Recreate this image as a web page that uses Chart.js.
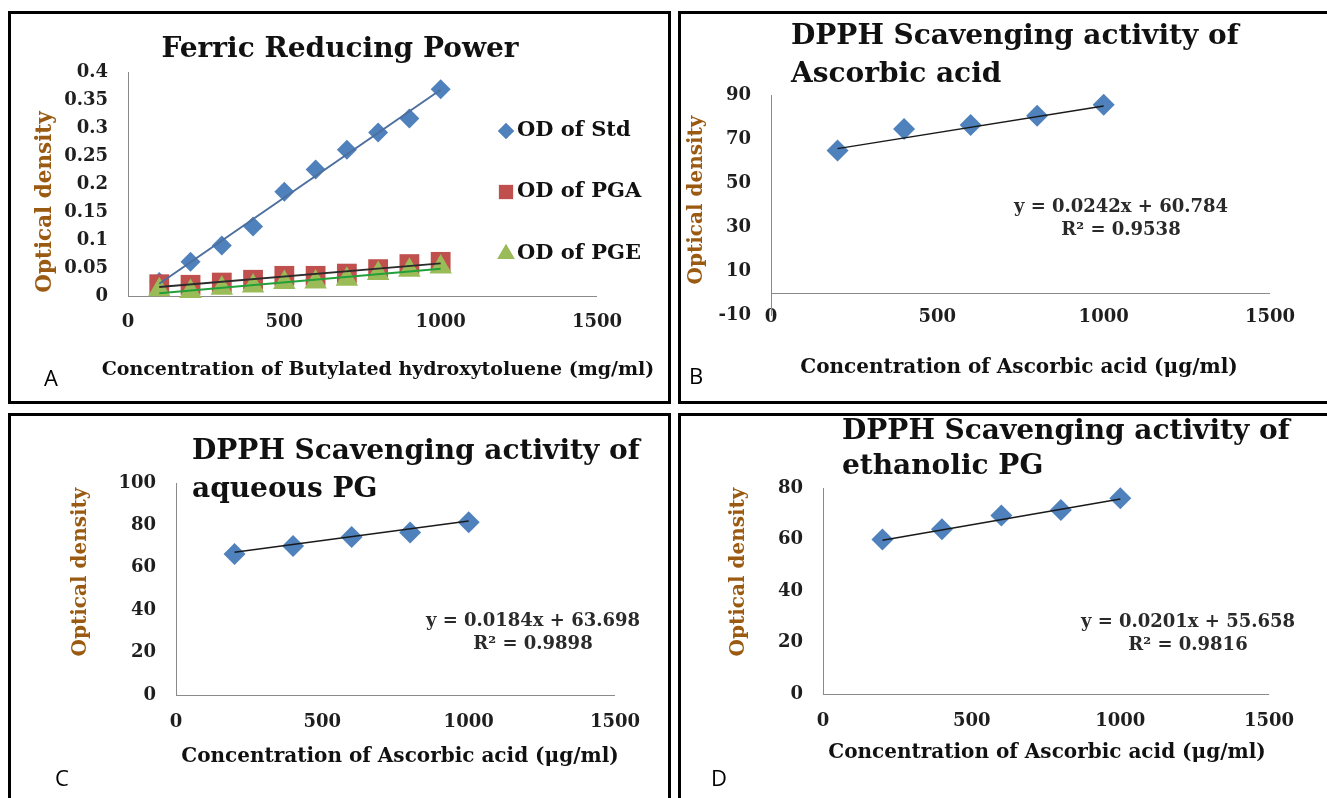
<!DOCTYPE html>
<html><head><meta charset="utf-8">
<script src="https://cdn.jsdelivr.net/npm/chart.js@4.4.1/dist/chart.umd.min.js"></script>
<style>
html,body{margin:0;padding:0;background:#fff;width:1327px;height:798px;overflow:hidden;}
.panel{position:absolute;border:3px solid #000;box-sizing:border-box;background:#fff;overflow:hidden;}
#pA{left:8px;top:11px;width:663px;height:393px;}
#pB{left:678px;top:11px;width:660px;height:393px;}
#pC{left:8px;top:413px;width:663px;height:400px;}
#pD{left:678px;top:413px;width:660px;height:400px;}
canvas{position:absolute;left:0;top:0;}
</style></head><body>
<div class="panel" id="pA"><canvas id="cA" width="657" height="387"></canvas></div>
<div class="panel" id="pB"><canvas id="cB" width="646" height="387"></canvas></div>
<div class="panel" id="pC"><canvas id="cC" width="657" height="382"></canvas></div>
<div class="panel" id="pD"><canvas id="cD" width="646" height="382"></canvas></div>
<script>
// ---------------- DATA ----------------
const concA = [100, 200, 300, 400, 500, 600, 700, 800, 900, 1000];
const odStd = [0.025, 0.061, 0.090, 0.124, 0.186, 0.226, 0.261, 0.292, 0.317, 0.369];
const odPGA = [0.021, 0.020, 0.024, 0.029, 0.036, 0.036, 0.040, 0.048, 0.057, 0.061];
const odPGE = [0.011, 0.008, 0.014, 0.018, 0.024, 0.025, 0.030, 0.040, 0.046, 0.052];

const concDPPH = [200, 400, 600, 800, 1000];
const dpphAscorbic = [64.8, 74.6, 76.4, 80.6, 85.6];
const dpphAqueous = [66.5, 70.3, 74.5, 76.6, 81.5];
const dpphEthanolic = [60.0, 64.0, 69.3, 71.5, 76.0];

// trendline coefficients printed on the charts: [slope, intercept, R²]
const fitB = [0.0242, 60.784, 0.9538];
const fitC = [0.0184, 63.698, 0.9898];
const fitD = [0.0201, 55.658, 0.9816];

// tick labels
const xTicks = [0, 500, 1000, 1500];
const yTicksA = [0, 0.05, 0.1, 0.15, 0.2, 0.25, 0.3, 0.35, 0.4];
const yTicksB = [-10, 10, 30, 50, 70, 90];
const yTicksC = [0, 20, 40, 60, 80, 100];
const yTicksD = [0, 20, 40, 60, 80];

// texts
const legendA = ['OD of Std', 'OD of PGA', 'OD of PGE'];
const titleA = ['Ferric Reducing Power'];
const titleB = ['DPPH Scavenging activity of', 'Ascorbic acid'];
const titleC = ['DPPH Scavenging activity of', 'aqueous PG'];
const titleD = ['DPPH Scavenging activity of', 'ethanolic PG'];
const yTitle = 'Optical density';
const xTitleA = 'Concentration of Butylated hydroxytoluene (mg/ml)';
const xTitleBCD = 'Concentration of Ascorbic acid (\u03bcg/ml)';
const panelLetters = ['A', 'B', 'C', 'D'];

// ---------------- STYLE ----------------
const SERIF = '"DejaVu Serif"';
const tickFont = {family: SERIF, weight: 'bold', size: 18};
const tickColor = '#1e1e1e';
const axisColor = '#8a8a8a';
const blue = '#4F81BD', red = '#C0504D', green = '#9BBB59';
const yTitleColor = '#9A5A12';
const fTitle = 'bold 28px ' + SERIF;
const fAxisA = 'bold 19px ' + SERIF;
const fAxis = 'bold 20px ' + SERIF;
const fYA = 'bold 21.5px ' + SERIF;
const fY = 'bold 20px ' + SERIF;
const fLegend = 'bold 21px ' + SERIF;
const fEq = 'bold 18px ' + SERIF;
const fLetter = '22px "Open Sans"';

function linFit(xs, ys) {
  const n = xs.length;
  const mx = xs.reduce((a, b) => a + b, 0) / n;
  const my = ys.reduce((a, b) => a + b, 0) / n;
  let sxy = 0, sxx = 0;
  for (let i = 0; i < n; i++) { sxy += (xs[i] - mx) * (ys[i] - my); sxx += (xs[i] - mx) ** 2; }
  const m = sxy / sxx;
  return [m, my - m * mx];
}
function trendPts(xs, coef) {
  const x0 = xs[0], x1 = xs[xs.length - 1];
  return [{x: x0, y: coef[0] * x0 + coef[1]}, {x: x1, y: coef[0] * x1 + coef[1]}];
}
function pts(xs, ys) { return xs.map((x, i) => ({x, y: ys[i]})); }

function drawMarker(ctx, style, r, x, y, color) {
  ctx.save();
  ctx.fillStyle = color;
  if (Chart.helpers && Chart.helpers.drawPoint) {
    Chart.helpers.drawPoint(ctx, {pointStyle: style, radius: r, rotation: 0, borderWidth: 0}, x, y);
    ctx.fill();
  } else {
    ctx.beginPath();
    if (style === 'rectRot') { ctx.moveTo(x - r, y); ctx.lineTo(x, y - r); ctx.lineTo(x + r, y); ctx.lineTo(x, y + r); }
    else if (style === 'rect') { const s = r * Math.SQRT1_2; ctx.rect(x - s, y - s, 2 * s, 2 * s); }
    else { ctx.moveTo(x, y - r); ctx.lineTo(x + r * 0.866, y + r / 2); ctx.lineTo(x - r * 0.866, y + r / 2); }
    ctx.closePath(); ctx.fill();
  }
  ctx.restore();
}

// horizontal axis line drawn where y = 0 (through the y scale)
const zeroLinePlugin = {
  id: 'zeroLine',
  beforeDatasetsDraw(chart) {
    const {ctx, chartArea, scales} = chart;
    const y = Math.round(scales.y.getPixelForValue(0)) + 0.5;
    ctx.save();
    ctx.strokeStyle = axisColor; ctx.lineWidth = 1;
    ctx.beginPath(); ctx.moveTo(chartArea.left, y); ctx.lineTo(chartArea.right, y); ctx.stroke();
    ctx.restore();
  }
};

const textPlugin = {
  id: 'panelText',
  afterDraw(chart, args, opts) {
    const ctx = chart.ctx;
    (opts.items || []).forEach(it => {
      ctx.save();
      ctx.font = it.font;
      ctx.fillStyle = it.color || '#111';
      ctx.textAlign = it.align || 'center';
      ctx.textBaseline = 'middle';
      ctx.translate(it.x, it.y);
      if (it.rot) ctx.rotate(it.rot);
      ctx.fillText(it.text, 0, 0);
      ctx.restore();
    });
    (opts.legend || []).forEach(l => {
      drawMarker(ctx, l.style, l.r, l.x, l.y, l.color);
      ctx.save();
      ctx.font = fLegend; ctx.fillStyle = '#111';
      ctx.textAlign = 'left'; ctx.textBaseline = 'middle';
      ctx.fillText(l.text, l.x + 11, l.y);
      ctx.restore();
    });
  }
};

function scales(yArr, g, xpad) {
  return {
    x: {
      type: 'linear', position: 'bottom', min: 0, max: 1500,
      afterBuildTicks: s => { s.ticks = xTicks.map(v => ({value: v})); },
      afterFit: s => {
        s.height = g.h - g.bottom; s.paddingLeft = 0; s.paddingRight = 0;
        s._computeLabelArea = () => undefined; // do not clip labels to the axis box
      },
      grid: {display: false, drawTicks: false},
      border: {display: false},
      ticks: {padding: xpad, font: tickFont, color: tickColor, maxRotation: 0, autoSkip: false, callback: v => String(v)}
    },
    y: {
      type: 'linear', min: yArr[0], max: yArr[yArr.length - 1],
      afterBuildTicks: s => { s.ticks = yArr.map(v => ({value: v})); },
      afterFit: s => { s.width = g.left; s.paddingTop = 0; s.paddingBottom = 0; },
      grid: {display: false, drawTicks: false},
      border: {display: true, color: axisColor, width: 1},
      ticks: {padding: 20, font: tickFont, color: tickColor, autoSkip: false, callback: v => String(v)}
    }
  };
}

function baseOptions(g, yArr, xpad, items, legend) {
  return {
    responsive: false, animation: false, devicePixelRatio: 1, events: [],
    layout: {padding: {left: 0, top: g.top, right: g.w - g.right, bottom: 0}},
    scales: scales(yArr, g, xpad),
    plugins: {legend: {display: false}, tooltip: {enabled: false}, title: {display: false},
      panelText: {items, legend: legend || []}}
  };
}

function titleItems(lines, x, y0, dy, align) {
  return lines.map((t, i) => ({text: t, x, y: y0 + i * dy, font: fTitle, align, color: '#111'}));
}
function eqItems(fit, cx, y0) {
  return [
    {text: 'y = ' + fit[0] + 'x + ' + fit[1], x: cx, y: y0, font: fEq, color: '#2a2a2a'},
    {text: 'R\u00b2 = ' + fit[2], x: cx, y: y0 + 23, font: fEq, color: '#2a2a2a'}
  ];
}

// ---------------- PANEL A ----------------
const gA = {w: 657, h: 387, left: 117, right: 586, top: 58, bottom: 282};
const fitStd = linFit(concA, odStd), fitPGA = linFit(concA, odPGA), fitPGE = linFit(concA, odPGE);
new Chart(document.getElementById('cA'), {
  type: 'scatter',
  data: {datasets: [
    {label: 'trend Std', data: trendPts(concA, fitStd), showLine: true, pointRadius: 0, borderColor: '#4C6F9E', borderWidth: 2, order: 3, clip: false},
    {label: 'trend PGA', data: trendPts(concA, fitPGA), showLine: true, pointRadius: 0, borderColor: '#2b2b2b', borderWidth: 2, order: 2, clip: false},
    {label: 'trend PGE', data: trendPts(concA, fitPGE), showLine: true, pointRadius: 0, borderColor: '#22a03a', borderWidth: 2, order: 1, clip: false},
    {label: legendA[0], data: pts(concA, odStd), pointStyle: 'rectRot', pointRadius: 10, backgroundColor: blue, borderWidth: 0, order: 6, clip: false},
    {label: legendA[1], data: pts(concA, odPGA), pointStyle: 'rect', pointRadius: 14, backgroundColor: red, borderWidth: 0, order: 5, clip: false},
    {label: legendA[2], data: pts(concA, odPGE), pointStyle: 'triangle', pointRadius: 13, backgroundColor: green, borderWidth: 0, order: 4, clip: false}
  ]},
  options: baseOptions(gA, yTicksA, 16, [
    ...titleItems(titleA, 329, 36, 0, 'center'),
    {text: yTitle, x: 34, y: 188, font: fYA, color: yTitleColor, rot: -Math.PI / 2},
    {text: xTitleA, x: 367, y: 356, font: fAxisA, color: '#111'},
    {text: panelLetters[0], x: 40, y: 366, font: fLetter, color: '#000'}
  ], [
    {text: legendA[0], style: 'rectRot', r: 8, x: 495, y: 117, color: blue},
    {text: legendA[1], style: 'rect', r: 10, x: 495, y: 178, color: red},
    {text: legendA[2], style: 'triangle', r: 10, x: 495, y: 240, color: green}
  ]),
  plugins: [zeroLinePlugin, textPlugin]
});

// ---------------- PANELS B, C, D ----------------
function dpphChart(id, g, yArr, ys, fit, xpad, items) {
  new Chart(document.getElementById(id), {
    type: 'scatter',
    data: {datasets: [
      {label: 'trend', data: trendPts(concDPPH, fit), showLine: true, pointRadius: 0, borderColor: '#1a1a1a', borderWidth: 1.5, order: 1, clip: false},
      {label: 'data', data: pts(concDPPH, ys), pointStyle: 'rectRot', pointRadius: 11, backgroundColor: blue, borderWidth: 0, order: 2, clip: false}
    ]},
    options: baseOptions(g, yArr, xpad, items),
    plugins: [zeroLinePlugin, textPlugin]
  });
}

dpphChart('cB', {w: 646, h: 387, left: 90, right: 589, top: 81, bottom: 301}, yTicksB, dpphAscorbic, fitB, -8, [
  ...titleItems(titleB, 110, 23, 38, 'left'),
  {text: yTitle, x: 16, y: 186, font: fY, color: yTitleColor, rot: -Math.PI / 2},
  {text: xTitleBCD, x: 338, y: 354, font: fAxis, color: '#111'},
  ...eqItems(fitB, 440, 193),
  {text: panelLetters[1], x: 15, y: 364, font: fLetter, color: '#000'}
]);

dpphChart('cC', {w: 657, h: 382, left: 165, right: 604, top: 67, bottom: 279}, yTicksC, dpphAqueous, fitC, 17, [
  ...titleItems(titleC, 181, 36, 38, 'left'),
  {text: yTitle, x: 70, y: 156, font: fY, color: yTitleColor, rot: -Math.PI / 2},
  {text: xTitleBCD, x: 389, y: 341, font: fAxis, color: '#111'},
  ...eqItems(fitC, 522, 205),
  {text: panelLetters[2], x: 51, y: 364, font: fLetter, color: '#000'}
]);

dpphChart('cD', {w: 646, h: 382, left: 142, right: 588, top: 72, bottom: 278}, yTicksD, dpphEthanolic, fitD, 17, [
  ...titleItems(titleD, 161, 16, 35, 'left'),
  {text: yTitle, x: 58, y: 156, font: fY, color: yTitleColor, rot: -Math.PI / 2},
  {text: xTitleBCD, x: 366, y: 337, font: fAxis, color: '#111'},
  ...eqItems(fitD, 507, 206),
  {text: panelLetters[3], x: 38, y: 364, font: fLetter, color: '#000'}
]);
</script>
</body></html>
